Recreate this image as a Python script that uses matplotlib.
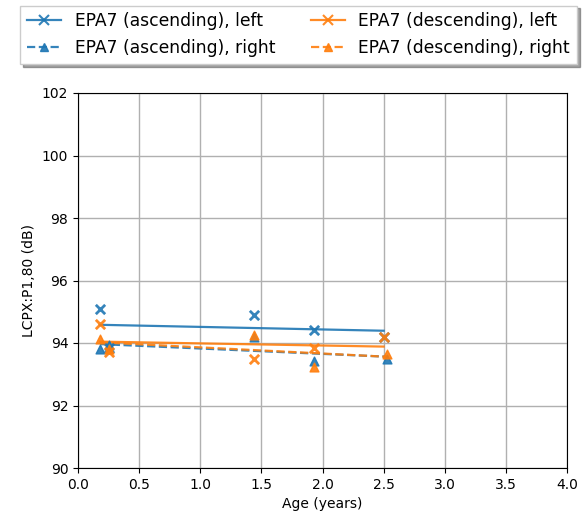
import numpy as np
import matplotlib
matplotlib.use("Agg")
import matplotlib.pyplot as plt
from matplotlib.lines import Line2D

# Data
age_left = [0.18, 0.25, 1.44, 1.93, 2.50]
age_right = [0.18, 0.25, 1.44, 1.93, 2.53]
asc_left = [95.10, 93.85, 94.90, 94.42, 94.20]
asc_right = [93.82, 93.95, 94.20, 93.42, 93.50]
desc_left = [94.60, 93.70, 93.50, 93.85, 94.20]
desc_right = [94.12, 93.80, 94.25, 93.22, 93.65]

labels = ["EPA7 (ascending), left", "EPA7 (ascending), right",
          "EPA7 (descending), left", "EPA7 (descending), right"]

fig = plt.figure(figsize=(5.82, 5.26), dpi=100)
ax = fig.add_axes([78/582, 1-468/526, (567-78)/582, (468-93)/526])

blue, orange = "tab:blue", "tab:orange"
series = [
    (age_left, asc_left, blue, "x", "-"),
    (age_right, asc_right, blue, "^", "--"),
    (age_left, desc_left, orange, "x", "-"),
    (age_right, desc_right, orange, "^", "--"),
]
handles = []
for (x, y, c, m, ls), lab in zip(series, labels):
    x = np.array(x); y = np.array(y)
    ax.scatter(x, y, color=c, marker=m, s=45 if m == "x" else 40,
               linewidths=2 if m == "x" else 1, alpha=0.9, zorder=3)
    p = np.polyfit(x, y, 1)
    xs = np.array([x.min(), x.max()])
    ax.plot(xs, np.polyval(p, xs), color=c, linestyle=ls, linewidth=1.6, alpha=0.9, zorder=2)
    handles.append(Line2D([], [], color=c, linestyle=ls, marker=m, linewidth=1.6, alpha=0.9,
                          markersize=7 if m == "x" else 6, markeredgewidth=1.5 if m == "x" else 1))

ax.set_xlim(0, 4)
ax.set_ylim(90, 102)
ax.set_xticks(np.arange(0, 4.01, 0.5))
ax.set_yticks(np.arange(90, 102.1, 2))
ax.grid(True, color="#b0b0b0", linewidth=1)
ax.set_axisbelow(True)
ax.set_xlabel("Age (years)")
ax.set_ylabel("LCPX:P1,80 (dB)")

fig.legend(handles, labels, loc="upper center", ncol=2, bbox_to_anchor=(0.513, 0.996),
           fontsize=12.3, shadow=True, fancybox=False, framealpha=1, columnspacing=2.05,
           handlelength=2.0, borderaxespad=0.2)

fig.savefig("out.png", dpi=100)
